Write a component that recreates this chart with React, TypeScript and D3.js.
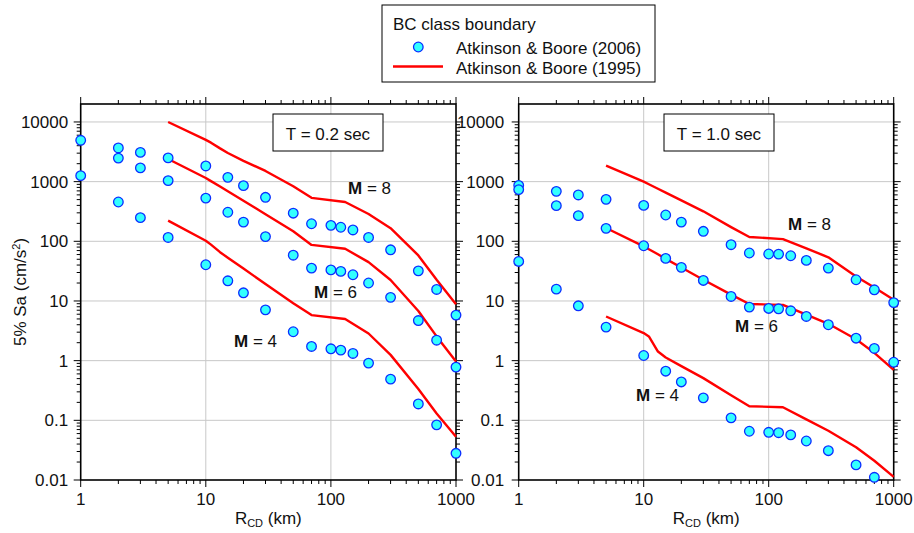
import React from "react";
import * as d3 from "d3";

// chart size
const W = 914;
const H = 533;
const FONT = "'Liberation Sans', Arial, Helvetica, sans-serif";

// distances (km)
const rPoints = [1, 2, 3, 5, 10, 15, 20, 30, 50, 70, 100, 120, 150, 200, 300, 500, 700, 1000];
const rCurve = [5, 10, 11, 13, 15, 20, 30, 50, 70, 130, 200, 300, 500, 700, 1000];

// T = 0.2 sec, Atkinson & Boore (2006) points
const ab06T02M8 = [4930, 3670, 3090, 2500, 1830, 1180, 857, 546, 296, 197, 185, 172, 155, 116, 72, 32, 15.6, 5.8];
const ab06T02M6 = [1260, 2480, 1700, 1040, 530, 307, 210, 120, 58.5, 35.6, 33.2, 31.3, 27.5, 20, 11.5, 4.7, 2.2, 0.78];
const ab06T02M4 = [null, 456, 249, 116, 40.5, 21.8, 13.7, 7.1, 3.05, 1.73, 1.58, 1.5, 1.32, 0.91, 0.49, 0.188, 0.084, 0.028];

// T = 0.2 sec, Atkinson & Boore (1995) curves
const ab95T02M8 = [10000, 5000, 4500, 3610, 3020, 2230, 1510, 835, 535, 456, 287, 166, 58, 22.7, 8.8];
const ab95T02M6 = [2400, 1150, 1020, 826, 689, 479, 285, 147, 87, 75, 44.8, 22.5, 6.8, 2.55, 0.97];
const ab95T02M4 = [222, 102, 88, 65.8, 53, 35, 19.2, 9.2, 5.8, 5.0, 2.85, 1.25, 0.336, 0.13, 0.053];

// T = 1.0 sec, Atkinson & Boore (2006) points
const ab06T10M8 = [867, 688, 598, 505, 400, 276, 210, 147, 87.7, 63.7, 61.3, 61, 57.3, 47.9, 35.6, 22.7, 15.4, 9.4];
const ab06T10M6 = [735, 396, 269, 165, 84.3, 51.7, 36.6, 22.1, 11.9, 7.9, 7.5, 7.4, 6.85, 5.5, 4.0, 2.38, 1.6, 0.94];
const ab06T10M4 = [46, 15.8, 8.3, 3.65, 1.22, 0.666, 0.44, 0.238, 0.11, 0.0656, 0.063, 0.062, 0.057, 0.045, 0.031, 0.0179, 0.0111, null];

// T = 1.0 sec, Atkinson & Boore (1995) curves
const ab95T10M8 = [1855, 1000, 905, 760, 655, 485, 318, 173, 118, 109, 76, 54, 25.7, 16.8, 10.5];
const ab95T10M6 = [167, 82, 73.6, 60.6, 50.8, 36.3, 22.7, 12.8, 8.9, 8.6, 5.9, 4.15, 2.29, 1.35, 0.7];
const ab95T10M4 = [5.5, 2.9, 2.55, 1.42, 1.13, 0.81, 0.51, 0.263, 0.172, 0.166, 0.104, 0.067, 0.0354, 0.021, 0.0113];

// tick labels
const xTickValues = [1, 10, 100, 1000];
const xTickLabels = ["1", "10", "100", "1000"];
const yTickValues = [0.01, 0.1, 1, 10, 100, 1000, 10000];
const yTickLabels = ["0.01", "0.1", "1", "10", "100", "1000", "10000"];

// plot area, shared vertical scale
const yTop = 104;
const yBottom = 480;
const y = d3.scaleLog().domain([0.01, 20000]).range([yBottom, yTop]);

const isMajor = (t) => Math.abs(Math.log10(t) - Math.round(Math.log10(t))) < 1e-6;

function Panel({ x0, x1, points, curves, period, boxX, mLabels, labelGap }) {
    const x = d3.scaleLog().domain([1, 1000]).range([x0, x1]);
    const line = d3.line().x(d => x(d[0])).y(d => y(d[1]));
    const xt = x.ticks();
    const yt = y.ticks().filter(t => t < 20000);

    return (
        <g>
            {/* grid */}
            {xTickValues.slice(1, -1).map(t => (
                <line key={"gx" + t} x1={x(t)} x2={x(t)} y1={yTop} y2={yBottom} stroke="#c8c8c8" strokeWidth={1} />
            ))}
            {yTickValues.slice(1).map(t => (
                <line key={"gy" + t} x1={x0} x2={x1} y1={y(t)} y2={y(t)} stroke="#c8c8c8" strokeWidth={1} />
            ))}

            {/* ticks, all pointing outwards */}
            {xt.map(t => {
                const len = isMajor(t) ? 7 : 4;
                return (
                    <g key={"tx" + t} stroke="#000" strokeWidth={1}>
                        <line x1={x(t)} x2={x(t)} y1={yBottom} y2={yBottom + len} />
                        <line x1={x(t)} x2={x(t)} y1={yTop} y2={yTop - len} />
                    </g>
                );
            })}
            {yt.map(t => {
                const len = isMajor(t) ? 7 : 4;
                return (
                    <g key={"ty" + t} stroke="#000" strokeWidth={1}>
                        <line x1={x0} x2={x0 - len} y1={y(t)} y2={y(t)} />
                        <line x1={x1} x2={x1 + len} y1={y(t)} y2={y(t)} />
                    </g>
                );
            })}

            {/* frame */}
            <rect x={x0} y={yTop} width={x1 - x0} height={yBottom - yTop} fill="none" stroke="#000" strokeWidth={1.6} />

            {/* tick labels */}
            {xTickValues.map((t, i) => (
                <text key={"lx" + t} x={x(t)} y={505} textAnchor="middle" fontSize={17} fontFamily={FONT} fill="#111">
                    {xTickLabels[i]}
                </text>
            ))}
            {yTickValues.map((t, i) => (
                <text key={"ly" + t} x={x0 - labelGap} y={y(t) + 6} textAnchor="end" fontSize={17} fontFamily={FONT} fill="#111">
                    {yTickLabels[i]}
                </text>
            ))}

            {/* x axis title */}
            <text x={(x0 + x1) / 2} y={524} textAnchor="middle" fontSize={17} fontFamily={FONT} fill="#111">
                R<tspan fontSize={11} dy={3}>CD</tspan><tspan dy={-3}> (km)</tspan>
            </text>

            {/* period box */}
            <rect x={x0 + boxX} y={114} width={110} height={37} fill="#fff" stroke="#000" strokeWidth={1} />
            <text x={x0 + boxX + 55} y={139.5} textAnchor="middle" fontSize={17} fontFamily={FONT} fill="#111">
                {period}
            </text>

            {/* AB95 curves */}
            {curves.map((vals, i) => (
                <path key={"c" + i} d={line(rCurve.map((r, j) => [r, vals[j]]))} fill="none" stroke="#ff0000" strokeWidth={2.4} strokeLinejoin="round" />
            ))}

            {/* AB06 points */}
            {points.map((vals, i) =>
                rPoints.map((r, j) =>
                    vals[j] == null ? null : (
                        <circle key={"p" + i + "-" + j} cx={x(r)} cy={y(vals[j])} r={4.8} fill="#33ffff" stroke="#0a2eff" strokeWidth={1.3} />
                    )
                )
            )}

            {/* magnitude labels */}
            {mLabels.map((m, i) => (
                <text key={"m" + i} x={m.x} y={m.y} fontSize={17} fontFamily={FONT} fill="#111">
                    <tspan fontWeight="bold">M</tspan> = {m.mag}
                </text>
            ))}
        </g>
    );
}

export default function App() {
    return (
        <svg width={W} height={H} style={{ position: "absolute", left: 0, top: 0, background: "#fff" }}>
            <Panel
                x0={80.7}
                x1={456}
                points={[ab06T02M8, ab06T02M6, ab06T02M4]}
                curves={[ab95T02M8, ab95T02M6, ab95T02M4]}
                period="T = 0.2 sec"
                boxX={192.3}
                labelGap={12.5}
                mLabels={[
                    { mag: 8, x: 348, y: 193.5 },
                    { mag: 6, x: 314, y: 298 },
                    { mag: 4, x: 234, y: 347 },
                ]}
            />
            <Panel
                x0={518.7}
                x1={893.7}
                points={[ab06T10M8, ab06T10M6, ab06T10M4]}
                curves={[ab95T10M8, ab95T10M6, ab95T10M4]}
                period="T = 1.0 sec"
                boxX={145.3}
                labelGap={14.5}
                mLabels={[
                    { mag: 8, x: 788, y: 230 },
                    { mag: 6, x: 735, y: 332 },
                    { mag: 4, x: 636, y: 400.5 },
                ]}
            />

            {/* y axis title */}
            <text transform={`translate(26, ${(yTop + yBottom) / 2}) rotate(-90)`} textAnchor="middle" fontSize={17} fontFamily={FONT} fill="#111">
                5% Sa (cm/s<tspan fontSize={11} dy={-6}>2</tspan><tspan dy={6}>)</tspan>
            </text>

            {/* legend */}
            <g fontFamily={FONT} fontSize={17} fill="#111">
                <rect x={382} y={5} width={273} height={77} fill="#fff" stroke="#000" strokeWidth={1} />
                <text x={393} y={29.5}>BC class boundary</text>
                <circle cx={418.3} cy={47} r={4.8} fill="#33ffff" stroke="#0a2eff" strokeWidth={1.3} />
                <text x={456} y={53.5}>Atkinson &amp; Boore (2006)</text>
                <line x1={393} x2={443} y1={66.5} y2={66.5} stroke="#ff0000" strokeWidth={2.4} />
                <text x={456} y={74}>Atkinson &amp; Boore (1995)</text>
            </g>
        </svg>
    );
}
